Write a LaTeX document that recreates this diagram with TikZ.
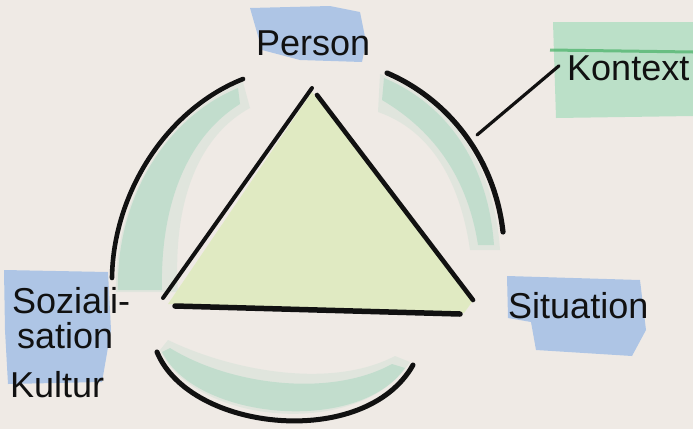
\documentclass[tikz,border=0pt]{standalone}
\usepackage{fontspec}
\setmainfont{Liberation Sans}
\definecolor{paper}{HTML}{EFEAE5}
\definecolor{hlblue}{HTML}{93B6E6}
\definecolor{hlgreen}{HTML}{A6DCBC}
\definecolor{dkgreen}{HTML}{4DB36B}
\definecolor{wash}{HTML}{8CCFB2}
\definecolor{trifill}{HTML}{E0EAC2}
\definecolor{ink}{HTML}{111111}
\begin{document}
\begin{tikzpicture}[x=1pt,y=-1pt,
  pen/.style={line width=4.6pt, line cap=round, draw=ink},
  lab/.style={font=\fontsize{36}{40}\selectfont, inner sep=0pt, anchor=base west, text=ink},
  bluepatch/.style={fill=hlblue, fill opacity=0.7, draw=none},
  washfill/.style={fill=wash, fill opacity=0.35, draw=none},
  washsoft/.style={fill=wash, fill opacity=0.15, draw=none}]
\useasboundingbox (0,0) rectangle (693,429);
\fill[paper] (0,0) rectangle (693,429);

% highlight patches
\path[bluepatch] (250,8) -- (330,6) -- (360,12) -- (366,42) -- (362,62) -- (300,60) -- (262,50) -- cycle;
\path[fill=hlgreen, fill opacity=0.7] (553,22) -- (693,22) -- (693,116) -- (556,118) -- cycle;
\draw[dkgreen, line width=3pt, opacity=0.75] (550,50) -- (693,52);
\path[bluepatch] (507,276) -- (640,280) -- (646,330) -- (632,356) -- (536,350) -- (531,322) -- (508,318) -- cycle;
\path[bluepatch] (4,270) -- (108,272) -- (111,330) -- (102,382) -- (8,384) -- (5,330) -- cycle;

% colour wash along the circle
\path[washsoft] (116,292) .. controls (114,200) and (165,115) .. (243,82) -- (250,108) .. controls (200,135) and (172,200) .. (178,292) -- cycle;
\path[washfill] (118,290) .. controls (116,200) and (165,118) .. (238,88) -- (240,104) .. controls (190,135) and (160,200) .. (162,290) -- cycle;
\path[washsoft] (380,74) .. controls (448,100) and (494,160) .. (500,250) -- (470,250) .. controls (460,180) and (430,130) .. (378,112) -- cycle;
\path[washfill] (384,78) .. controls (446,104) and (488,162) .. (494,245) -- (478,245) .. controls (468,180) and (436,132) .. (382,100) -- cycle;
\path[washsoft] (160,350) .. controls (195,425) and (360,440) .. (410,362) -- (395,356) .. controls (330,390) and (230,370) .. (168,340) -- cycle;
\path[washfill] (162,352) .. controls (196,420) and (358,435) .. (405,368) -- (392,364) .. controls (330,398) and (230,385) .. (170,348) -- cycle;

% triangle fill
\fill[trifill] (312,92) -- (168,304) -- (464,313) -- (472,302) -- cycle;

% triangle sides
\draw[pen, line width=4pt] (312,88) -- (163,298);
\draw[pen] (317,95) -- (473,300);
\draw[pen, line width=5.5pt] (175,306) -- (460,314);

% circle arcs
\draw[pen] (112,278) .. controls (113,195) and (165,110) .. (243,79);
\draw[pen, line width=5.2pt] (387,73) .. controls (450,100) and (495,160) .. (503,232);
\draw[pen, line width=5pt] (157,352) .. controls (190,432) and (365,450) .. (413,365);
\coordinate (kx) at (477,135);

% labels
\node[lab] (person) at (256,55) {Person};
\node[lab] (kontext) at (567,80) {Kontext};
\node[lab] (situation) at (508,318) {Situation};
\node[lab] (soz1) at (12,313) {Soziali-};
\node[lab] (soz2) at (17,348) {sation};
\node[lab] (soz3) at (10,397) {Kultur};

% connector to Kontext
\draw[pen, line width=3.2pt] (kx) -- ([xshift=-8pt,yshift=2pt]kontext.west);
\end{tikzpicture}
\end{document}
